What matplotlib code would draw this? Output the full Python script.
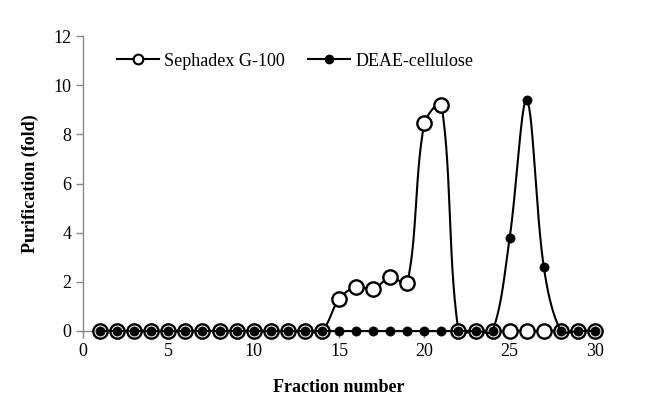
import numpy as np
import matplotlib
matplotlib.use("Agg")
import matplotlib.pyplot as plt
from matplotlib.lines import Line2D

plt.rcParams['font.family'] = ['Liberation Serif', 'DejaVu Serif']

fractions = list(range(1, 31))
sephadex = [0]*14 + [1.3, 1.8, 1.7, 2.2, 1.95, 8.45, 9.2] + [0]*9
deae = [0]*24 + [3.8, 9.4, 2.6] + [0]*3

x_ticks = [0, 5, 10, 15, 20, 25, 30]
y_ticks = [0, 2, 4, 6, 8, 10, 12]

SX, SY = 17.07, 24.6  # pixels per data unit, for distance weighting


def smooth(x, y, n=30):
    x = np.asarray(x, float) * SX
    y = np.asarray(y, float) * SY
    P = np.column_stack([x, y])
    P = np.vstack([P[0], P, P[-1]])
    out = []
    for i in range(1, len(P) - 2):
        p0, p1, p2, p3 = P[i - 1], P[i], P[i + 1], P[i + 2]
        d01 = np.linalg.norm(p1 - p0)
        d12 = np.linalg.norm(p2 - p1)
        d23 = np.linalg.norm(p3 - p2)
        f1 = d12 / (d01 + d12) / 3.0 if d01 + d12 > 0 else 0
        f2 = d12 / (d12 + d23) / 3.0 if d12 + d23 > 0 else 0
        c1 = p1 + (p2 - p0) * f1
        c2 = p2 - (p3 - p1) * f2
        t = np.linspace(0, 1, n)[:, None]
        b = ((1 - t) ** 3) * p1 + 3 * ((1 - t) ** 2) * t * c1 + 3 * (1 - t) * t ** 2 * c2 + t ** 3 * p2
        out.append(b)
    B = np.vstack(out)
    return B[:, 0] / SX, B[:, 1] / SY


fig = plt.figure(figsize=(6.51, 4.2), dpi=100)
ax = fig.add_axes([0.1275, 0.212, 0.7865, 0.702])

sx, sy = smooth(fractions, sephadex)
dx, dy = smooth(fractions, deae)
ax.plot(sx, sy, color='black', lw=1.5, zorder=2, clip_on=False)
ax.plot(fractions, sephadex, linestyle='none', marker='o', ms=10.3, mfc='white',
        mec='black', mew=1.7, zorder=3, clip_on=False)
ax.plot(dx, dy, color='black', lw=1.5, zorder=4, clip_on=False)
ax.plot(fractions, deae, linestyle='none', marker='o', ms=6.6, mfc='black',
        mec='black', mew=0.5, zorder=5, clip_on=False)

ax.set_xlim(0, 30)
ax.set_ylim(0, 12)
ax.set_xticks(x_ticks)
ax.set_yticks(y_ticks)
for s in ['top', 'right']:
    ax.spines[s].set_visible(False)
for s in ['left', 'bottom']:
    ax.spines[s].set_color('#888888')
    ax.spines[s].set_linewidth(1.0)
ax.tick_params(axis='both', direction='out', length=5, color='#888888',
               labelsize=13, width=1.0)
ax.set_xlabel('Fraction number', fontsize=13, fontweight='bold', labelpad=14)
ax.set_ylabel('Purification (fold)', fontsize=13, fontweight='bold', labelpad=10)

h1 = Line2D([], [], color='black', lw=1.5, marker='o', ms=7, mfc='white', mec='black', mew=1.5)
h2 = Line2D([], [], color='black', lw=1.5, marker='o', ms=6, mfc='black', mec='black')
ax.legend([h1, h2], ['Sephadex G-100', 'DEAE-cellulose'], loc='center left',
          bbox_to_anchor=((117 - 83) / 512, (331 - 61) / 295), ncol=2, frameon=False,
          fontsize=13, handlelength=2.3, columnspacing=1.3, handletextpad=0.3,
          borderpad=0, borderaxespad=0)

fig.savefig('out.png', dpi=100)
